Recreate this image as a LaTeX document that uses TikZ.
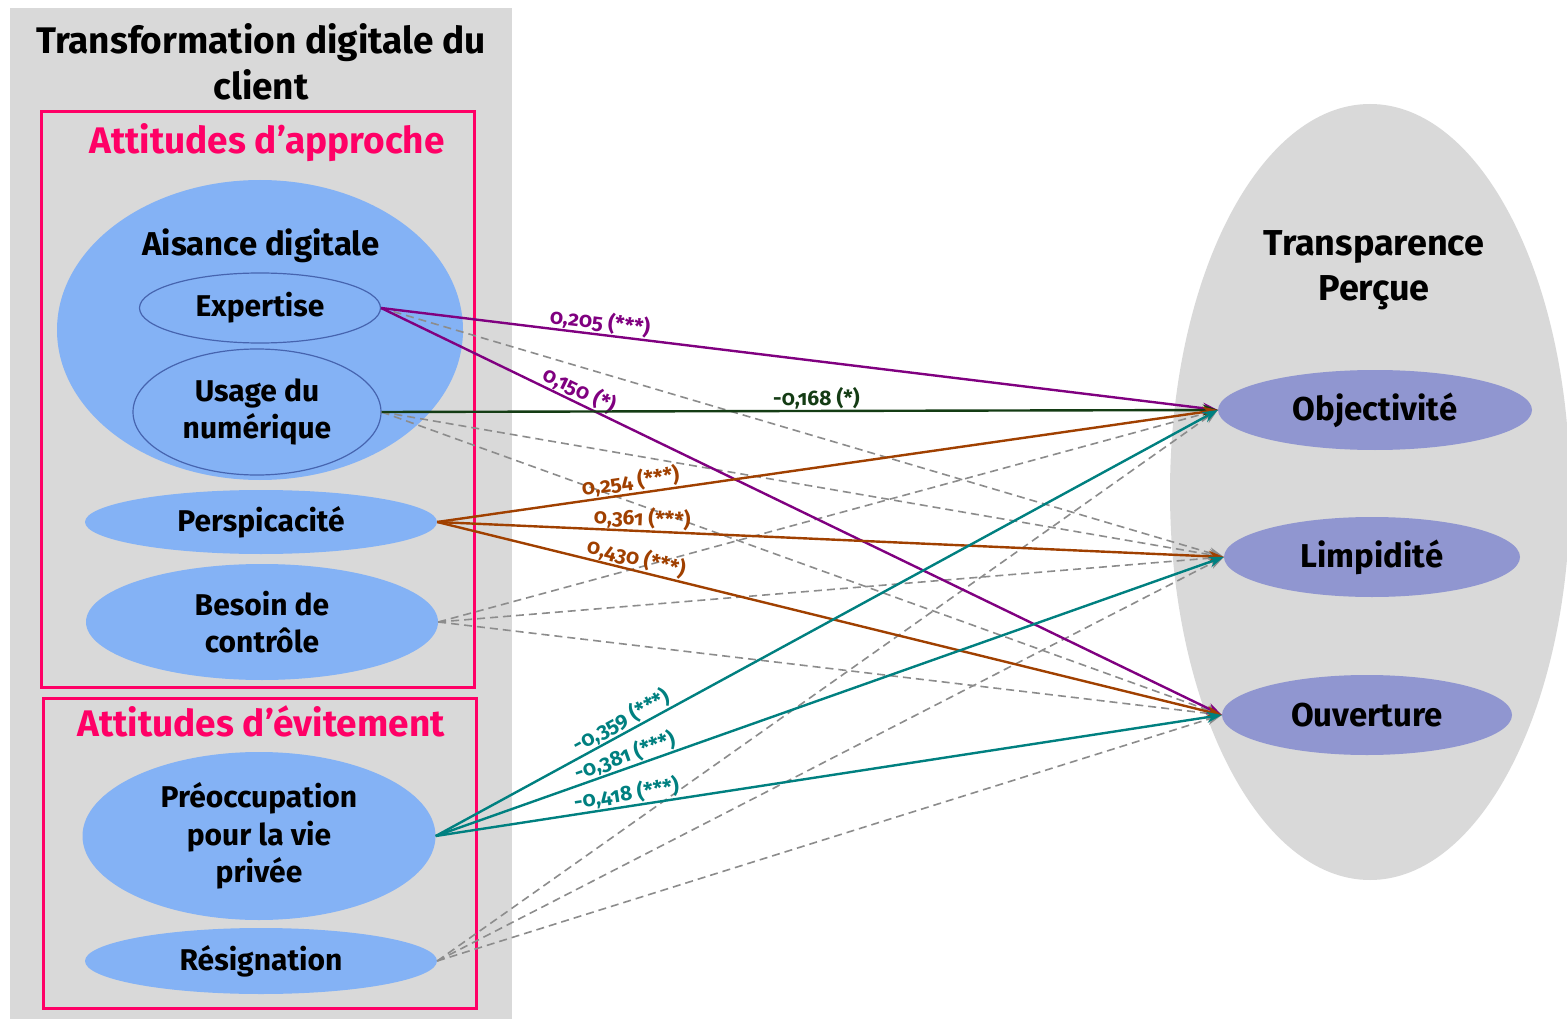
\documentclass[tikz,border=0pt]{standalone}
\usepackage{fontspec}
\setmainfont{Fira Sans}[Numbers=OldStyle]
\usetikzlibrary{shapes.geometric,arrows.meta}
\definecolor{bggray}{RGB}{217,217,217}
\definecolor{pinkc}{RGB}{255,0,102}
\definecolor{lblue}{RGB}{132,178,245}
\definecolor{eline}{RGB}{70,100,175}
\definecolor{violetc}{RGB}{144,150,208}
\definecolor{purp}{RGB}{128,0,128}
\definecolor{dgreen}{RGB}{20,60,20}
\definecolor{brownc}{RGB}{160,64,0}
\definecolor{tealc}{RGB}{0,128,128}
\definecolor{dashg}{RGB}{140,140,140}
\tikzset{
  fs/.style={font=\fontsize{#1pt}{\fpeval{#1*1.25}pt}\selectfont\bfseries},
  ell/.style={ellipse, fill=lblue, inner sep=0pt, align=center},
  tell/.style={ellipse, fill=violetc, inner sep=0pt, align=center, fs=33},
  pinkbox/.style={draw=pinkc, line width=3pt},
  sol/.style={line width=2.4pt, -{Stealth[length=15pt,width=11pt]}},
  dsh/.style={line width=1.6pt, dashg, dash pattern=on 8pt off 5pt, -{Stealth[length=15pt,width=11pt]}},
  lab/.style={fs=21, sloped, above, inner sep=0.5pt},
}
\begin{document}
\begin{tikzpicture}[x=1pt,y=-1pt]
\useasboundingbox (0,0) rectangle (1567,1019);
\fill[white] (0,0) rectangle (1567,1019);
\begin{scope}
\clip (0,0) rectangle (1567,1019);
\fill[bggray] (10,8) rectangle (512,1019);
\fill[bggray] (1370,492) ellipse [x radius=200pt, y radius=388pt];
\end{scope}
% titles
\node[fs=37, align=center] (t1) at (261,62) {Transformation digitale du\\client};
\node[fs=36, align=center] (t2) at (1374,270) {Transparence\\Perçue};
% boxes
\draw[pinkbox] (41,112) rectangle (474,687);
\draw[pinkbox] (43,698) rectangle (476,1008);
\node[fs=37, text=pinkc] (app) at (267,143) {Attitudes d’approche};
\node[fs=37, text=pinkc] (evi) at (261,721) {Attitudes d’évitement};
% left ellipses
\node[ell, minimum width=406pt, minimum height=300pt] (ais) at (260,330) {};
\node[fs=33] (aist) at (261,246) {Aisance digitale};
\node[ell, draw=eline, line width=1.2pt, minimum width=241pt, minimum height=70pt, fs=30] (exp) at (260,308) {Expertise};
\node[ell, draw=eline, line width=1.2pt, minimum width=248pt, minimum height=126pt, fs=30] (usa) at (257,412) {Usage du\\numérique};
\node[ell, minimum width=352pt, minimum height=64pt, fs=30] (per) at (261,522) {Perspicacité};
\node[ell, minimum width=352pt, minimum height=116pt, fs=30] (bes) at (262,622) {Besoin de\\contrôle};
\node[ell, minimum width=353pt, minimum height=168pt, fs=30] (pre) at (259,836) {Préoccupation\\pour la vie\\privée};
\node[ell, minimum width=352pt, minimum height=66pt, fs=30] (res) at (261,961) {Résignation};
% right ellipses
\node[tell, minimum width=314pt, minimum height=80pt] (obj) at (1375,410) {Objectivité};
\node[tell, minimum width=296pt, minimum height=80pt] (lim) at (1372,557) {Limpidité};
\node[tell, minimum width=290pt, minimum height=80pt] (ouv) at (1367,715) {Ouverture};
% dashed connectors
\draw[dsh] (exp.east) -- (lim.west);
\draw[dsh] (usa.east) -- (lim.west);
\draw[dsh] (usa.east) -- (ouv.west);
\draw[dsh] (bes.east) -- (obj.west);
\draw[dsh] (bes.east) -- (lim.west);
\draw[dsh] (bes.east) -- (ouv.west);
\draw[dsh] (res.east) -- (obj.west);
\draw[dsh] (res.east) -- (lim.west);
\draw[dsh] (res.east) -- (ouv.west);
% solid connectors
\draw[sol, purp] (exp.east) -- node[lab, pos=0.26] {0,205 (***)} (obj.west);
\draw[sol, purp] (exp.east) -- node[lab, pos=0.23] {0,150 (*)} (ouv.west);
\draw[sol, dgreen] (usa.east) -- node[lab, pos=0.52] {-0,168 (*)} (obj.west);
\draw[sol, brownc] (per.east) -- node[lab, pos=0.25] {0,254 (***)} (obj.west);
\draw[sol, brownc] (per.east) -- node[lab, pos=0.26] {0,361 (***)} (lim.west);
\draw[sol, brownc] (per.east) -- node[lab, pos=0.25] {0,430 (***)} (ouv.west);
\draw[sol, tealc] (pre.east) -- node[lab, pos=0.245] {-0,359 (***)} (obj.west);
\draw[sol, tealc] (pre.east) -- node[lab, pos=0.245] {-0,381 (***)} (lim.west);
\draw[sol, tealc] (pre.east) -- node[lab, pos=0.245] {-0,418 (***)} (ouv.west);
\end{tikzpicture}
\end{document}
